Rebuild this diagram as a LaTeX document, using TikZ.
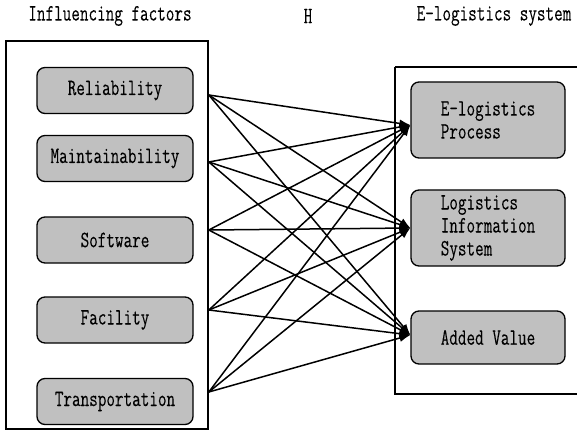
\documentclass[tikz,border=0pt]{standalone}
\usepackage{fontspec}
\newfontfamily\diagfont[FakeStretch=0.71, FakeBold=0.15]{Latin Modern Mono}
\usetikzlibrary{arrows.meta}
\definecolor{boxgray}{RGB}{192,192,192}
\tikzset{
  frame/.style={draw=black, line width=1.6pt},
  factor/.style={draw=black, line width=1.3pt, fill=boxgray, rounded corners=8pt,
    minimum width=156pt, minimum height=46pt, inner sep=0pt,
    font=\diagfont\fontsize{23.5}{23.5}\selectfont},
  sysbox/.style={draw=black, line width=1.3pt, fill=boxgray, rounded corners=8pt,
    minimum width=154pt, inner sep=0pt, align=left,
    font=\diagfont\fontsize{23.5}{23}\selectfont},
  title/.style={font=\diagfont\fontsize{23.5}{23.5}\selectfont, inner sep=0pt},
  link/.style={line width=1.5pt, -{Latex[length=11pt,width=8pt]}}
}
\begin{document}
\begin{tikzpicture}[x=1pt, y=-1pt]
  \useasboundingbox (0,0) rectangle (577,430);
  \begin{scope}
    \clip (0,0) rectangle (577,430);

    % headings
    \node[title] (hleft) at (110,16) {Influencing factors};
    \node[title] (hmid) at (308,16) {H};
    \node[title] (hright) at (494,16) {E-logistics system};

    % outer frames
    \node[frame, minimum width=202pt, minimum height=388pt, inner sep=0pt] (leftframe) at (107,235) {};
    \draw[frame] (395,67) -- (600,67) (395,67) -- (395,394) -- (600,394);

    % influencing factors
    \node[factor] (rel) at (115,90.5) {Reliability};
    \node[factor] (mai) at (115,158.5) {Maintainability};
    \node[factor] (sof) at (115,240) {Software};
    \node[factor] (fac) at (115,320) {Facility};
    \node[factor] (tra) at (115,401.5) {Transportation};

    % e-logistics system components
    \node[sysbox, minimum height=76pt] (proc) at (488,120) {E-logistics\\Process};
    \node[sysbox, minimum height=76pt] (info) at (488,228) {Logistics\\Information\\System};
    \node[sysbox, minimum height=53pt, align=center] (added) at (488,337.5) {Added Value};

    % connector ends on the frame edges
    \coordinate (s1) at (leftframe.east |- 0,95);
    \coordinate (s2) at (leftframe.east |- 0,162);
    \coordinate (s3) at (leftframe.east |- 0,230);
    \coordinate (s4) at (leftframe.east |- 0,310);
    \coordinate (s5) at (leftframe.east |- 0,392);
    \coordinate (t1) at (proc.west |- 0,125);
    \coordinate (t2) at (info.west |- 0,228);
    \coordinate (t3) at (added.west |- 0,335);

    % every factor influences every component
    \foreach \s in {s1,s2,s3,s4,s5}
      \foreach \t in {t1,t2,t3}
        \draw[link] (\s) -- (\t);
  \end{scope}
\end{tikzpicture}
\end{document}
